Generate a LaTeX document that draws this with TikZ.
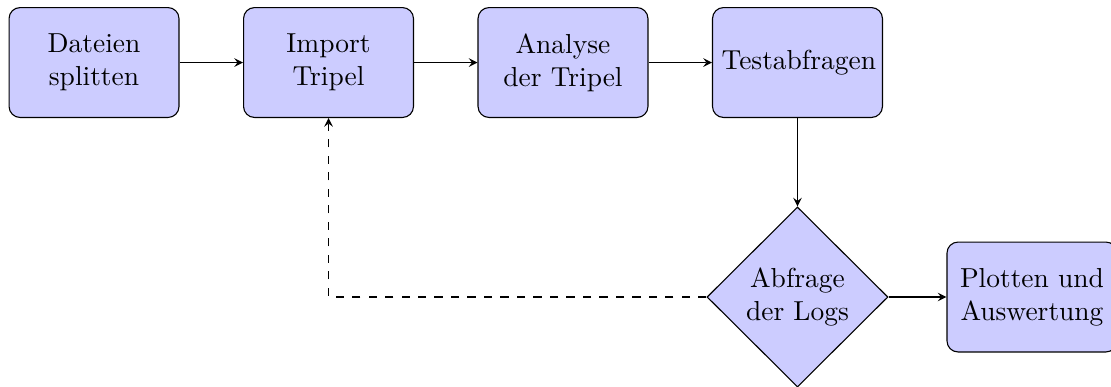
\documentclass[tikz,border=0pt]{standalone}
\usetikzlibrary{shapes.geometric,arrows}
\begin{document}
\begin{tikzpicture}[
  >=stealth,
  block/.style={rectangle, draw, fill=blue!20, rounded corners,
    text width=55.2pt, align=center, minimum height=4em, inner sep=3.33pt},
  decision/.style={diamond, draw, fill=blue!20, align=center,
    inner sep=0pt, minimum width=2.316cm, minimum height=2.303cm},
  flow/.style={draw, ->},
  back/.style={draw, dashed, ->}
]
\useasboundingbox (0,0) rectangle (14.214,-4.951);

\node[block] (split) at (1.203,-0.8) {Dateien\\splitten};
\node[block] (import) at (4.203,-0.8) {Import\\Tripel};
\node[block] (analyse) at (7.203,-0.8) {Analyse\\der Tripel};
\node[block] (test) at (10.203,-0.8) {Testabfragen};
\node[decision] (logs) at (10.203,-3.8) {Abfrage\\der Logs};
\node[block] (plot) at (13.203,-3.8) {Plotten und\\Auswertung};

\path[flow] (split) -- (import);
\path[flow] (import) -- (analyse);
\path[flow] (analyse) -- (test);
\path[flow] (test) -- (logs);
\path[flow] (logs) -- (plot);
\path[back] (logs.west) -| (import.south);
\end{tikzpicture}
\end{document}
